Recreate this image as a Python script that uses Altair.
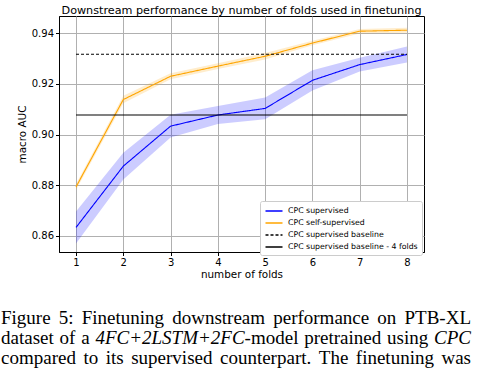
import altair as alt
import pandas as pd

# ---- data ----
folds = [1, 2, 3, 4, 5, 6, 7, 8]
sup_mean = [0.8633, 0.8875, 0.9033, 0.9077, 0.9103, 0.9214, 0.9276, 0.9316]
sup_err = [0.0063, 0.0053, 0.0045, 0.0036, 0.0043, 0.0040, 0.0027, 0.0032]
self_mean = [0.8793, 0.9138, 0.9230, 0.9270, 0.9309, 0.9361, 0.9408, 0.9412]
self_err = [0.0012, 0.0015, 0.0012, 0.0011, 0.0013, 0.0009, 0.0009, 0.0010]
baseline_all = 0.9317
baseline_4 = 0.9077

series_names = ["CPC supervised", "CPC self-supervised",
                "CPC supervised baseline", "CPC supervised baseline - 4 folds"]
series_colors = ["#0000ff", "#ffa500", "black", "black"]
series_dash = [[1, 0], [1, 0], [3, 2], [1, 0]]

title_text = "Downstream performance by number of folds used in finetuning"

# caption (words, with italic flag)
cap_lines = [
    [("Figure", 0), ("5:", 0), ("Finetuning", 0), ("downstream", 0), ("performance", 0), ("on", 0), ("PTB-XL", 0)],
    [("dataset", 0), ("of", 0), ("a", 0), ("4FC+2LSTM+2FC", 1), ("-model", 0), ("pretrained", 0), ("using", 0), ("CPC", 1)],
    [("compared", 0), ("to", 0), ("its", 0), ("supervised", 0), ("counterpart.", 0), ("The", 0), ("finetuning", 0), ("was", 0)],
]
# words glued to the previous one (no space before)
cap_glued = [[], ["-model"], []]

# ---- layout helpers (justify caption lines using Times-like glyph widths) ----
PL, PT, W, H = 59, 16, 365, 236
CAP_FS = 19
CAP_LEFT, CAP_RIGHT = 1, 471
cap_base = [324, 344, 364]

_tw = dict(zip("abcdefghijklmnopqrstuvwxyz",
               [444, 500, 444, 500, 444, 333, 500, 500, 278, 278, 500, 278, 778, 500, 500, 500, 500, 333, 389, 278, 500, 500, 722, 500, 500, 444]))
_tw.update(dict(zip("ABCDEFGHIJKLMNOPQRSTUVWXYZ",
                    [722, 667, 667, 722, 611, 556, 722, 722, 333, 389, 722, 611, 889, 722, 722, 556, 722, 667, 556, 611, 722, 722, 944, 722, 722, 611])))
_tw.update({d: 500 for d in "0123456789"})
_tw.update({":": 278, ".": 250, "-": 333, "+": 564})
_ti = dict(_tw)
_ti.update({"F": 611, "C": 667, "L": 556, "S": 500, "T": 556, "M": 833, "P": 611, "+": 675})


def word_w(w, italic):
    tab = _ti if italic else _tw
    return sum(tab.get(c, 500) for c in w) * CAP_FS / 1000.0


words = []
for li, line in enumerate(cap_lines):
    widths = [word_w(w, it) for w, it in line]
    gaps = [0 if (i > 0 and line[i][0] in cap_glued[li]) else 1 for i in range(len(line))]
    ngaps = sum(gaps[1:])
    space = (CAP_RIGHT - CAP_LEFT - sum(widths)) / ngaps
    x = CAP_LEFT
    for i, ((w, it), wd) in enumerate(zip(line, widths)):
        if i > 0:
            x += space * gaps[i]
        words.append(dict(word=w, italic=it, px=x - PL, py=cap_base[li] - PT))
        x += wd
wdf = pd.DataFrame(words)

# ---- tables ----
rows = []
for f, m, e in zip(folds, sup_mean, sup_err):
    rows.append(dict(fold=f, value=m, lo=m - e, hi=m + e, series=series_names[0]))
for f, m, e in zip(folds, self_mean, self_err):
    rows.append(dict(fold=f, value=m, lo=m - e, hi=m + e, series=series_names[1]))
for f in (folds[0], folds[-1]):
    rows.append(dict(fold=f, value=baseline_all, lo=baseline_all, hi=baseline_all, series=series_names[2]))
    rows.append(dict(fold=f, value=baseline_4, lo=baseline_4, hi=baseline_4, series=series_names[3]))
df = pd.DataFrame(rows)

xscale = alt.Scale(domain=[0.64, 8.36], nice=False, zero=False)
yscale = alt.Scale(domain=[0.8536, 0.9468], nice=False, zero=False)
xax = alt.Axis(values=folds, title="number of folds", format="d")
yax = alt.Axis(values=[0.86, 0.88, 0.90, 0.92, 0.94], format=".2f", title="macro AUC")

base = alt.Chart(df)

band_sup = base.transform_filter(alt.datum.series == series_names[0]).mark_area(
    color="#0000ff", opacity=0.2).encode(
    x=alt.X("fold:Q", scale=xscale, axis=xax),
    y=alt.Y("lo:Q", scale=yscale, axis=yax),
    y2="hi:Q")
band_self = base.transform_filter(alt.datum.series == series_names[1]).mark_area(
    color="#ffa500", opacity=0.2).encode(
    x=alt.X("fold:Q", scale=xscale, axis=xax),
    y=alt.Y("lo:Q", scale=yscale, axis=yax),
    y2="hi:Q")

leg = alt.Legend(title=None, orient="none", legendX=201, legendY=185)
lines = base.mark_line(strokeWidth=1.1).encode(
    x=alt.X("fold:Q", scale=xscale, axis=xax),
    y=alt.Y("value:Q", scale=yscale, axis=yax),
    color=alt.Color("series:N", scale=alt.Scale(domain=series_names, range=series_colors),
                    sort=series_names, legend=leg),
    strokeDash=alt.StrokeDash("series:N", scale=alt.Scale(domain=series_names, range=series_dash),
                              sort=series_names, legend=leg),
    order="fold:Q",
)

cap_reg = alt.Chart(wdf).transform_filter(alt.datum.italic == 0).mark_text(
    align="left", baseline="alphabetic", font="Liberation Serif", fontSize=CAP_FS, color="black").encode(
    x=alt.X("px:Q", scale=None), y=alt.Y("py:Q", scale=None), text="word:N")
cap_it = alt.Chart(wdf).transform_filter(alt.datum.italic == 1).mark_text(
    align="left", baseline="alphabetic", font="Liberation Serif", fontSize=CAP_FS, fontStyle="italic",
    color="black").encode(
    x=alt.X("px:Q", scale=None), y=alt.Y("py:Q", scale=None), text="word:N")

chart = alt.layer(band_sup, band_self, lines, cap_reg, cap_it).properties(
    width=W, height=H,
    title=alt.TitleParams(title_text,
                          font="DejaVu Sans", fontSize=11.2, fontWeight="normal", color="black",
                          anchor="middle", offset=3, baseline="bottom", dy=14),
    autosize=alt.AutoSizeParams(type="none"),
    padding={"left": PL, "top": PT, "right": 478 - PL - W, "bottom": 376 - PT - H},
).configure_view(
    stroke="black", strokeWidth=1
).configure_axis(
    labelFont="DejaVu Sans", titleFont="DejaVu Sans", labelFontSize=10, titleFontSize=10.4,
    titleFontWeight="normal", labelColor="black", titleColor="black",
    domainColor="black", tickColor="black", tickSize=3.5, labelPadding=2,
    gridColor="#b0b0b0", gridWidth=1, gridOpacity=1,
).configure_axisY(titlePadding=4).configure_axisX(titlePadding=2
).configure_legend(
    labelFont="DejaVu Sans", labelFontSize=7.8, labelColor="black",
    symbolType="M-1.7,0H1.7", symbolSize=100, symbolStrokeWidth=1.4,
    symbolOffset=4, labelOffset=8,
    fillColor="white", strokeColor="#cccccc", cornerRadius=2, padding=4,
    rowPadding=2, labelLimit=300,
)

chart.save("out.html", embed_options={"renderer": "svg", "actions": False})
